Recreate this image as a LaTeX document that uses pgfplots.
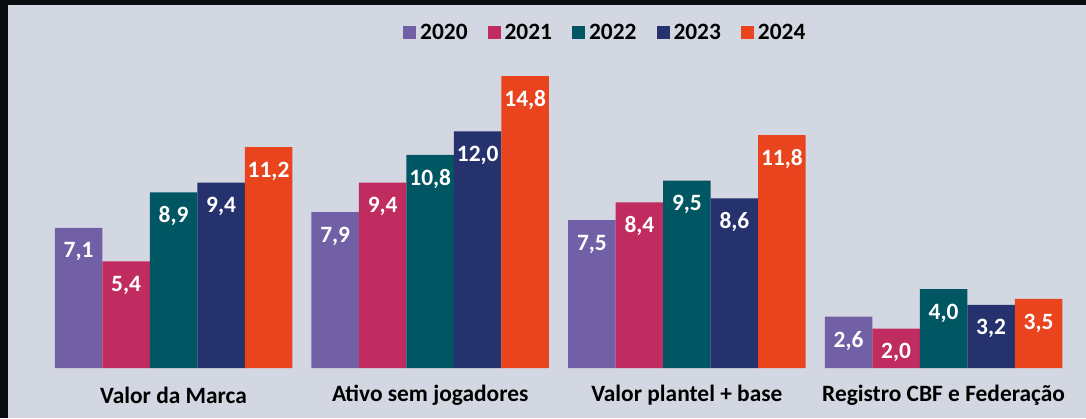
\documentclass[border=0pt]{standalone}
\usepackage{fontspec}
\setmainfont{Carlito}
\usepackage{pgfplots}
\pgfplotsset{compat=1.18}
\definecolor{panel}{RGB}{211,215,225}
\definecolor{frame}{RGB}{10,12,16}
\definecolor{c2020}{RGB}{114,96,166}
\definecolor{c2021}{RGB}{193,44,96}
\definecolor{c2022}{RGB}{0,86,98}
\definecolor{c2023}{RGB}{38,50,110}
\definecolor{c2024}{RGB}{233,68,30}
\newcommand{\lbl}{\fontsize{11.7}{14}\selectfont\bfseries}

\begin{document}
\begin{tikzpicture}
\fill[frame] (0,0) rectangle (543pt,209pt);
\fill[panel] (4pt,0) rectangle (543pt,206.5pt);
\begin{axis}[
  at={(4pt,25pt)}, anchor=south west,
  scale only axis, width=539pt, height=181.5pt,
  xmin=-0.645, xmax=3.555, ymin=0, ymax=18.4,
  ybar=0pt, bar width=23.75pt,
  axis line style={draw=none}, major tick length=0pt,
  ytick=\empty, xtick={0,1,2,3},
  xticklabels={Valor da Marca, Ativo sem jogadores, Valor plantel + base, Registro CBF e Federação},
  xticklabel style={font=\lbl, anchor=center, yshift=-13.5pt},
  nodes near coords,
  every node near coord/.append style={anchor=center, yshift=-12pt, text=white, font=\lbl},
  /pgf/number format/use comma,
  /pgf/number format/fixed,
  /pgf/number format/fixed zerofill,
  /pgf/number format/precision=1,
  /pgf/number format/assume math mode=true,
  legend columns=5,
  legend style={at={(0.555,0.923)}, anchor=center, draw=none, fill=none, font=\lbl,
    /tikz/every even column/.append style={column sep=8pt}},
  legend image code/.code={\fill[#1] (0pt,-3.25pt) rectangle (6.5pt,3.25pt);},
]
\addplot[fill=c2020, draw=none] coordinates {(0,7.1) (1,7.9) (2,7.5) (3,2.6)};
\addplot[fill=c2021, draw=none] coordinates {(0,5.4) (1,9.4) (2,8.4) (3,2.0)};
\addplot[fill=c2022, draw=none] coordinates {(0,8.9) (1,10.8) (2,9.5) (3,4.0)};
\addplot[fill=c2023, draw=none] coordinates {(0,9.4) (1,12.0) (2,8.6) (3,3.2)};
\addplot[fill=c2024, draw=none] coordinates {(0,11.2) (1,14.8) (2,11.8) (3,3.5)};
\legend{2020,2021,2022,2023,2024}
\end{axis}
\pgfresetboundingbox
\path (0,0) rectangle (543pt,209pt);
\end{tikzpicture}
\end{document}
